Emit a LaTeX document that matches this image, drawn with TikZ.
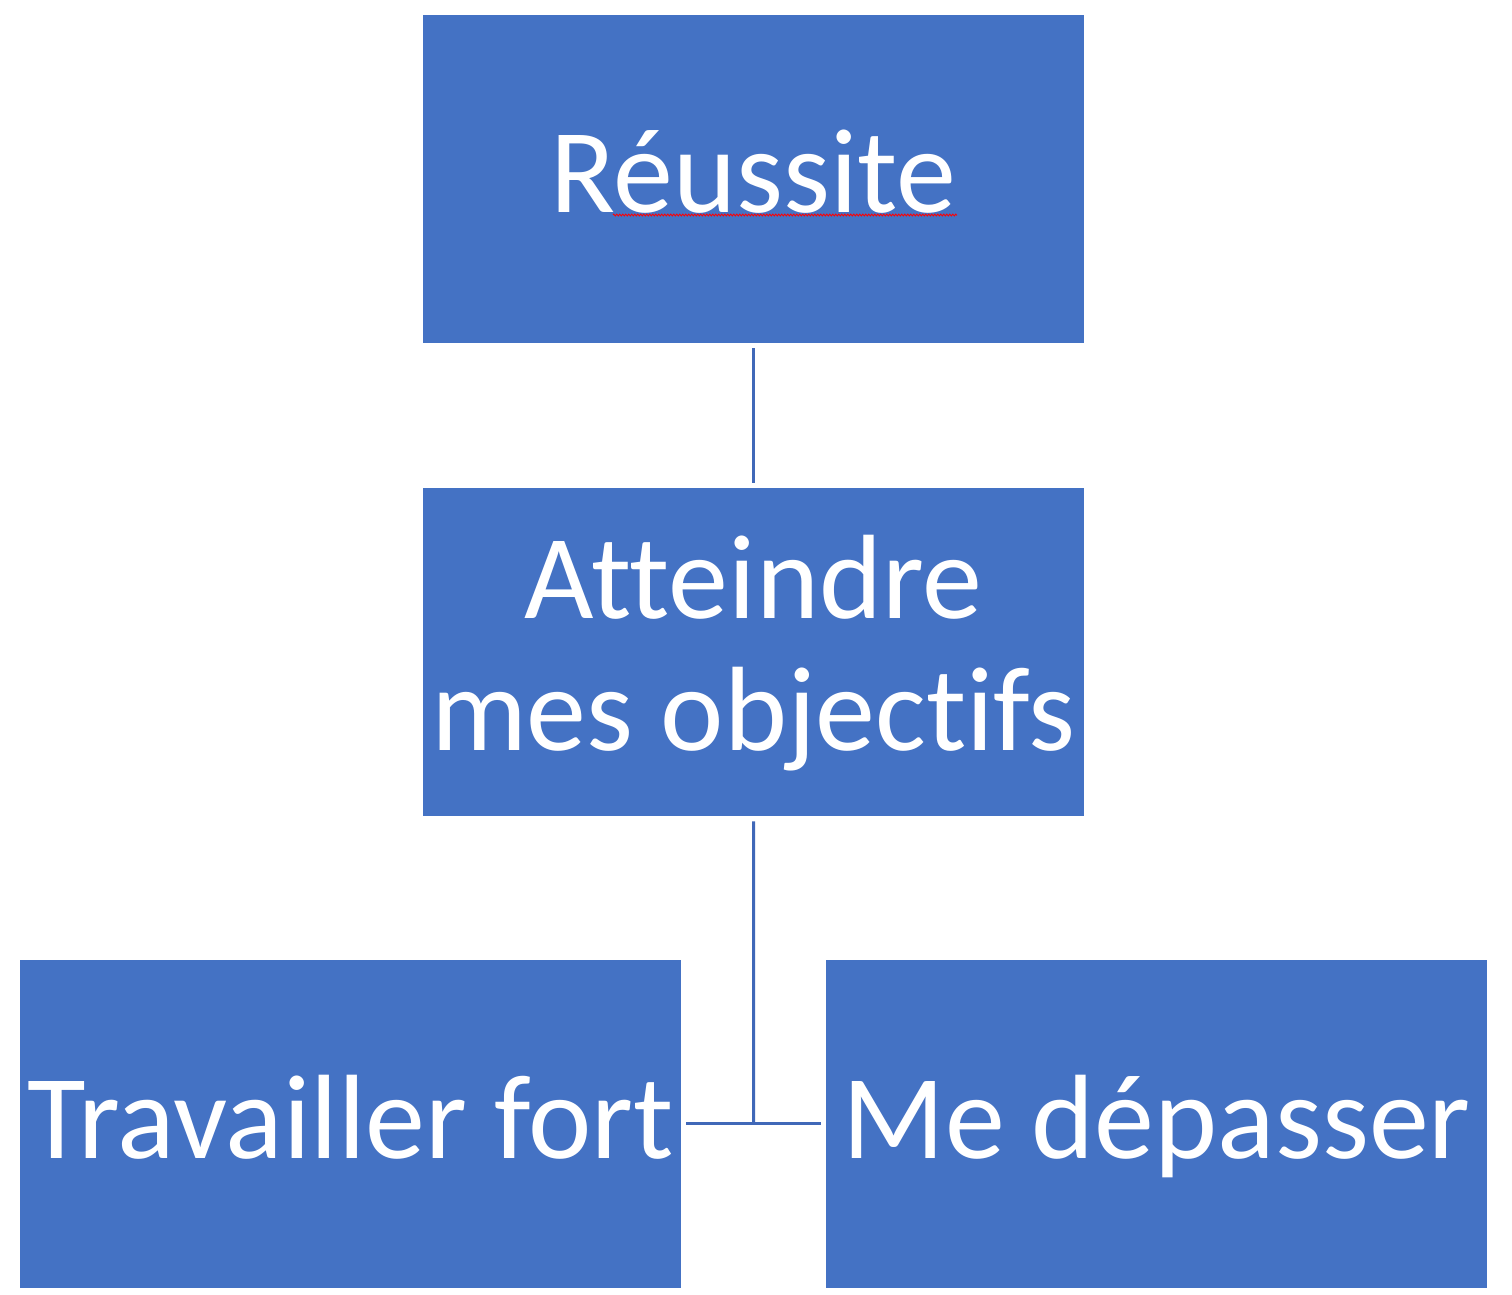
\documentclass[tikz,border=0pt]{standalone}
\usepackage{fontspec}
\setmainfont[Ligatures=NoCommon]{Carlito}
\usetikzlibrary{decorations.pathmorphing}
\definecolor{boxblue}{HTML}{4472C4}
\definecolor{lineblue}{HTML}{4068B8}
\begin{document}
\begin{tikzpicture}[x=1pt,y=-1pt,
  box/.style={fill=boxblue, draw=none, minimum width=661pt, minimum height=328pt, inner sep=0pt, anchor=north west},
  lbl/.style={text=white, font=\fontsize{120}{132}\selectfont, inner sep=0pt, anchor=base, align=center},
  conn/.style={draw=lineblue, line width=3pt}]
\useasboundingbox (0,0) rectangle (1512,1294);
\node[box] (top) at (423,15) {};
\node[box] (mid) at (423,488) {};
\node[box] (left) at (20,960) {};
\node[box] (right) at (826,960) {};
\node[lbl] (topt) at (753.5,212) {Réussite};
\node[lbl] (midt1) at (753.5,618) {Atteindre};
\node[lbl] (midt2) at (753.5,750) {mes objectifs};
\node[lbl] (leftt) at (350.5,1158) {Travailler fort};
\node[lbl] (rightt) at (1156.5,1158) {Me dépasser};
\coordinate (j) at (753.5,1123);
\draw[conn] ([yshift=-5pt]top.south) -- ([yshift=5pt]mid.north);
\draw[conn] ([yshift=-5pt]mid.south) -- (j);
\draw[conn] ([xshift=5pt]left.east |- j) -- ([xshift=-5pt]right.west |- j);
\draw[red, line width=1pt, decorate, decoration={zigzag, amplitude=0.8pt, segment length=3pt}] (613,215) -- (957,215);
\end{tikzpicture}
\end{document}
